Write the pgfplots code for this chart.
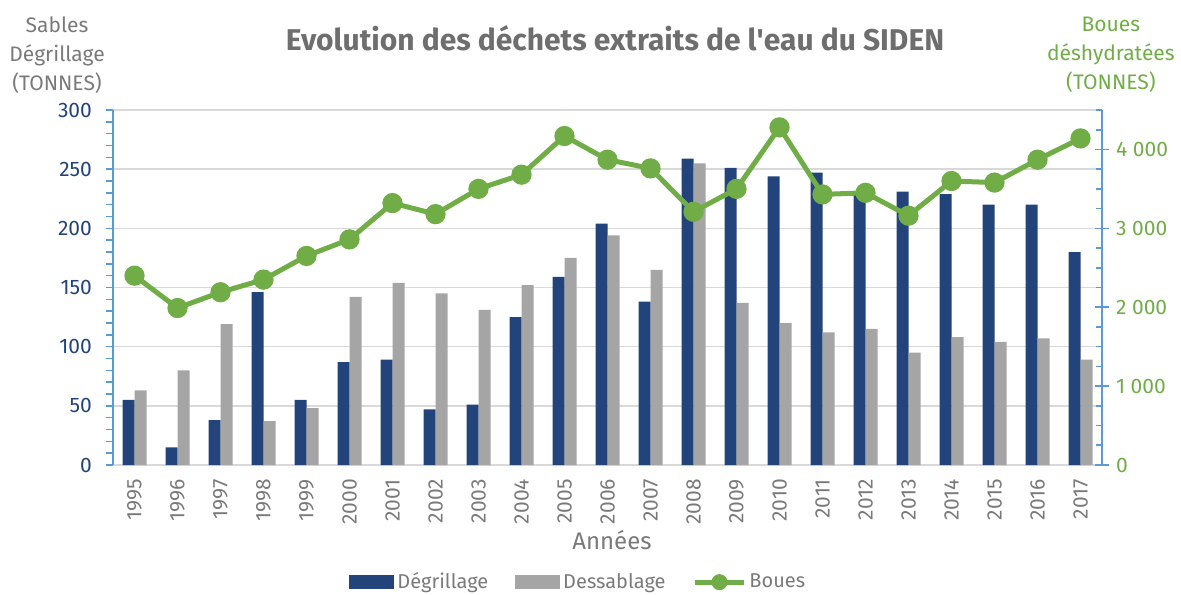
\documentclass[border=0pt]{standalone}
\usepackage{fontspec}
\setmainfont{Fira Sans}
\usepackage{pgfplots}
\pgfplotsset{compat=1.18}
\definecolor{navy}{HTML}{23447A}
\definecolor{gris}{HTML}{A5A5A5}
\definecolor{vert}{HTML}{70AD47}
\definecolor{axblue}{HTML}{5B9BD5}
\definecolor{txtgray}{HTML}{7A7A7A}
\definecolor{titgray}{HTML}{6E6E6E}
\definecolor{gridc}{HTML}{D9D9D9}
\begin{document}
\begin{tikzpicture}[x=1pt,y=1pt]
\useasboundingbox (0,0) rectangle (590.5,297);
\begin{axis}[
  at={(56.5pt,64.5pt)}, anchor=south west, scale only axis,
  width=494.5pt, height=177.5pt,
  ymin=0, ymax=300, xmin=-0.5, xmax=22.5,
  ybar=0pt, bar width=6pt,
  axis y line*=left, axis x line*=bottom,
  y axis line style={axblue, line width=0.8pt},
  x axis line style={gridc, line width=0.8pt},
  xtick={0,...,22},
  xticklabels={1995,1996,1997,1998,1999,2000,2001,2002,2003,2004,2005,2006,2007,2008,2009,2010,2011,2012,2013,2014,2015,2016,2017},
  x tick label style={rotate=90, anchor=east, font=\fontsize{10.5}{12}\selectfont, text=txtgray},
  major x tick style={draw=none},
  ytick={0,50,...,300}, minor ytick={0,10,...,300},
  tick align=outside, major tick length=3.5pt, minor tick length=3.5pt,
  y tick style={axblue, line width=0.8pt},
  y tick label style={text=navy, font=\fontsize{10.5}{12}\selectfont, xshift=-3.5pt},
  /pgf/number format/assume math mode=true,
  ymajorgrids, major grid style={gridc, line width=0.75pt},
  title={Evolution des déchets extraits de l\textquotesingle eau du SIDEN},
  title style={at={(axis description cs:0.5076,1.2028)}, anchor=center, yshift=-6pt, font=\fontsize{15}{17}\selectfont\bfseries, text=titgray},
  xlabel={Années},
  xlabel style={at={(axis description cs:0.5045,-0.211)}, anchor=center, font=\fontsize{12}{14}\selectfont, text=txtgray},
  ylabel={Sables\\Dégrillage\\(TONNES)},
  ylabel style={rotate=-90, at={(axis description cs:-0.0566,1.155)}, anchor=center, align=center, font=\fontsize{10.5}{14.5}\selectfont, text=txtgray},
  legend columns=3,
  legend style={at={(axis description cs:0.471,-0.33)}, anchor=center, draw=none, fill=none,
    font=\fontsize{10}{12}\selectfont, text=txtgray,
    /tikz/every even column/.append style={column sep=12pt},
    nodes={inner sep=1.5pt}},
]
\addplot[fill=navy, draw=none,
  legend image code/.code={\fill[navy] (0pt,-3.5pt) rectangle (22.5pt,3.5pt);}]
coordinates {(0,55)(1,15)(2,38)(3,146)(4,55)(5,87)(6,89)(7,47)(8,51)(9,125)(10,159)(11,204)
(12,138)(13,259)(14,251)(15,244)(16,247)(17,230)(18,231)(19,229)(20,220)(21,220)(22,180)};
\addlegendentry{Dégrillage}
\addplot[fill=gris, draw=none,
  legend image code/.code={\fill[gris] (0pt,-3.5pt) rectangle (22.5pt,3.5pt);}]
coordinates {(0,63)(1,80)(2,119)(3,37)(4,48)(5,142)(6,154)(7,145)(8,131)(9,152)(10,175)(11,194)
(12,165)(13,255)(14,137)(15,120)(16,112)(17,115)(18,95)(19,108)(20,104)(21,107)(22,89)};
\addlegendentry{Dessablage}
\addlegendimage{legend image code/.code={\draw[vert, line width=2.5pt] (0pt,0pt) -- (24.5pt,0pt); \fill[vert] (12.25pt,0pt) circle (3.8pt);}}
\addlegendentry{Boues}
\end{axis}
\begin{axis}[
  at={(56.5pt,64.5pt)}, anchor=south west, scale only axis,
  width=494.5pt, height=177.5pt,
  ymin=0, ymax=4500, xmin=-0.5, xmax=22.5,
  axis y line*=right, axis x line=none,
  y axis line style={axblue, line width=0.8pt},
  ytick={0,1000,...,4000}, minor ytick={0,250,...,4500},
  tick align=inside, major tick length=2.8pt, minor tick length=2.8pt,
  extra y ticks={0,1000,2000,3000,4000}, extra y tick labels={},
  extra y tick style={tick align=center, major tick length=7pt},
  y tick style={axblue, line width=0.8pt},
  y tick label style={text=vert, font=\fontsize{10.5}{12}\selectfont, xshift=3.5pt},
  /pgf/number format/assume math mode=true,
  /pgf/number format/1000 sep={\ },
  ylabel={Boues\\déshydratées\\(TONNES)},
  ylabel style={rotate=-90, at={(axis description cs:1.009,1.155)}, anchor=center, align=center, font=\fontsize{10.5}{14.5}\selectfont, text=vert},
]
\addplot[vert, line width=2.5pt, mark=*, mark size=3.8pt]
coordinates {(0,2400)(1,1990)(2,2190)(3,2350)(4,2650)(5,2860)(6,3320)(7,3180)(8,3500)(9,3680)(10,4170)(11,3870)
(12,3760)(13,3210)(14,3500)(15,4280)(16,3430)(17,3450)(18,3160)(19,3600)(20,3580)(21,3870)(22,4140)};
\end{axis}
\end{tikzpicture}
\end{document}
